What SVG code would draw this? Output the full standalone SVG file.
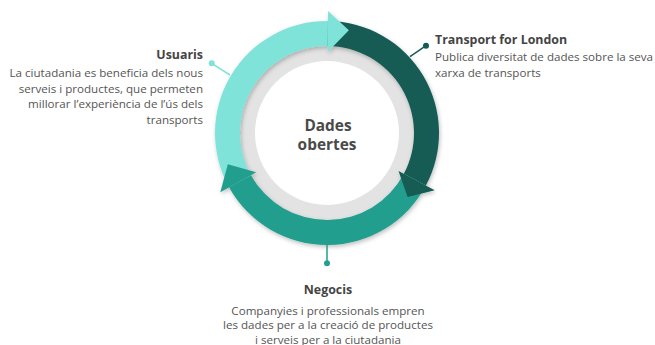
<svg xmlns="http://www.w3.org/2000/svg" width="655" height="345" viewBox="0 0 655 345">
<style>
  .title { font-family: "Open Sans", "Liberation Sans", sans-serif; font-weight: bold; font-size: 12.4px; fill: #444444; }
  .body { font-family: "Open Sans", "Liberation Sans", sans-serif; font-size: 11.6px; fill: #555555; }
  .center { font-family: "Open Sans", "Liberation Sans", sans-serif; font-weight: bold; font-size: 15.4px; fill: #4a4a4a; text-anchor: middle; }
  .light { fill: #80e3d9; }
  .dark { fill: #145c54; }
  .mid { fill: #239e8f; }
</style>
<defs>
  <filter id="sh" x="-20%" y="-20%" width="140%" height="140%">
    <feDropShadow dx="1" dy="2" stdDeviation="2" flood-color="#000" flood-opacity="0.25"/>
  </filter>
</defs>
<rect width="655" height="345" fill="#ffffff"/>

<g id="hub">
  <circle cx="327" cy="133" r="88" fill="#e3e3e3"/>
  <circle cx="327" cy="133" r="72" fill="#ffffff"/>
  <text class="center" x="328" y="130.5">Dades</text>
  <text class="center" x="327" y="149.5">obertes</text>
</g>

<g id="cycle" filter="url(#sh)">
  <path class="light" d="M229.04,187.30 A112,112 0 0 1 327.98,21.00 L327.76,46.00 A87,87 0 0 0 250.91,175.18 Z"/>
  <path class="dark" d="M327.98,21.00 A112,112 0 0 1 425.89,185.58 L403.82,173.84 A87,87 0 0 0 327.76,46.00 Z"/>
  <path class="mid" d="M425.89,185.58 A112,112 0 0 1 229.04,187.30 L250.91,175.18 A87,87 0 0 0 403.82,173.84 Z"/>
  <polygon class="light" points="328.06,11.00 348.83,30.29 327.71,52.00"/>
  <polygon class="dark" points="434.72,190.28 407.61,197.12 398.52,171.03"/>
  <polygon class="mid" points="220.30,192.15 227.81,164.27 256.16,172.27"/>
</g>

<g id="connectors" stroke-width="1.5">
  <line x1="211.7" y1="63.3" x2="230" y2="75" stroke="#80e3d9"/>
  <circle cx="211.7" cy="63.3" r="3" fill="#80e3d9"/>
  <line x1="426" y1="45.7" x2="410" y2="56.7" stroke="#145c54"/>
  <circle cx="426" cy="45.7" r="3" fill="#145c54"/>
  <line x1="327" y1="245" x2="327" y2="263.3" stroke="#239e8f"/>
  <circle cx="327" cy="263.3" r="3" fill="#239e8f"/>
</g>

<g id="usuaris" text-anchor="end">
  <text class="title" x="203" y="59">Usuaris</text>
  <text class="body" x="203" y="77">La ciutadania es beneficia dels nous</text>
  <text class="body" x="203" y="92.5">serveis i productes, que permeten</text>
  <text class="body" x="203" y="108">millorar l’experiència de l’ús dels</text>
  <text class="body" x="203" y="123.5">transports</text>
</g>

<g id="tfl">
  <text class="title" x="435" y="44">Transport for London</text>
  <text class="body" x="435" y="61">Publica diversitat de dades sobre la seva</text>
  <text class="body" x="435" y="76.5">xarxa de transports</text>
</g>

<g id="negocis" text-anchor="middle">
  <text class="title" x="328" y="294">Negocis</text>
  <text class="body" x="328" y="314.5">Companyies i professionals empren</text>
  <text class="body" x="328" y="329">les dades per a la creació de productes</text>
  <text class="body" x="328" y="343.5">i serveis per a la ciutadania</text>
</g>
</svg>
